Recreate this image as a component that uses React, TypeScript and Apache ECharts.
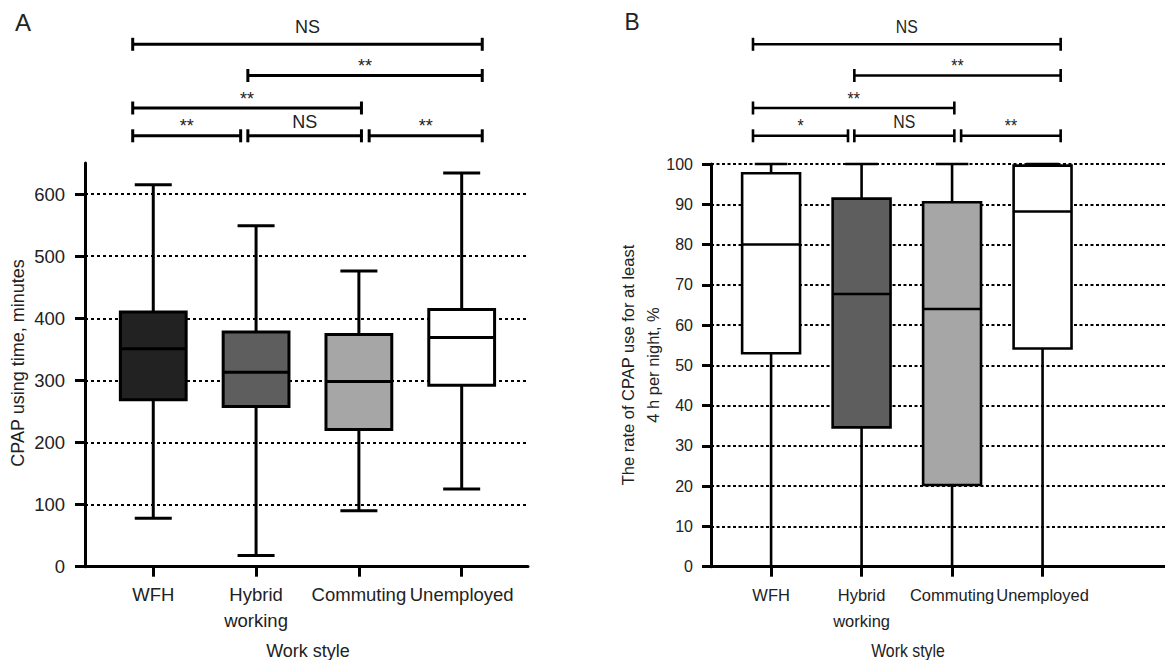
import React, { useEffect, useRef } from "react";
import * as echarts from "echarts";

const FONT = "'Liberation Sans', Arial, Helvetica, sans-serif";
const TEXT = "#222222";

const categories = ["WFH", "Hybrid\nworking", "Commuting", "Unemployed"];
const categoryTicks = [0, 1, 2, 3];

// Panel A: CPAP using time, minutes
const timeMin = [78, 18, 90, 125];
const timeQ1 = [269, 258, 221, 292];
const timeMedian = [351, 313, 298, 369];
const timeQ3 = [410, 378, 374, 414];
const timeMax = [615, 549, 476, 634];
const timeTicks = [0, 100, 200, 300, 400, 500, 600];

// Panel B: rate of CPAP use for at least 4 h per night, %
const rateMin = [0, 0, 0, 0];
const rateQ1 = [53, 34.6, 20.3, 54.2];
const rateMedian = [80, 67.7, 64, 88.2];
const rateQ3 = [97.7, 91.4, 90.5, 99.6];
const rateMax = [100, 100, 100, 100];

const fillsA = ["#222222", "#5e5e5e", "#a6a6a6", "#ffffff"];
const fillsB = ["#ffffff", "#5e5e5e", "#a6a6a6", "#ffffff"];

// Pairwise comparisons (bracket spans in category units, bracket row)
const compFrom = [-0.2, 0.92, -0.2, -0.2, 0.92, 2.1];
const compTo = [3.2, 3.2, 2.025, 0.85, 2.025, 3.2];
const compRow = [0, 1, 2, 3, 3, 3];
const sigLabelsA = ["NS", "**", "**", "**", "NS", "**"];
const sigLabelsB = ["NS", "**", "**", "*", "NS", "**"];

const BOX_W = 0.64;
const CAP_W = 0.36;

const makeBox = (fills: string[], lw: number) => (params: any, api: any) => {
  const i = api.value(0);
  const pMin = api.coord([i, api.value(1)]);
  const yQ1 = api.coord([i, api.value(2)])[1];
  const yMed = api.coord([i, api.value(3)])[1];
  const yQ3 = api.coord([i, api.value(4)])[1];
  const yMax = api.coord([i, api.value(5)])[1];
  const cx = pMin[0];
  const yMin = pMin[1];
  const hb = api.size([BOX_W, 0])[0] / 2;
  const hc = api.size([CAP_W, 0])[0] / 2;
  const s = { stroke: "#000", lineWidth: lw };
  return {
    type: "group",
    children: [
      { type: "line", shape: { x1: cx, y1: yMax, x2: cx, y2: yQ3 }, style: s },
      { type: "line", shape: { x1: cx, y1: yQ1, x2: cx, y2: yMin }, style: s },
      { type: "line", shape: { x1: cx - hc, y1: yMax, x2: cx + hc, y2: yMax }, style: s },
      { type: "line", shape: { x1: cx - hc, y1: yMin, x2: cx + hc, y2: yMin }, style: s },
      {
        type: "rect",
        shape: { x: cx - hb, y: yQ3, width: hb * 2, height: yQ1 - yQ3 },
        style: { fill: fills[params.dataIndex], stroke: "#000", lineWidth: lw },
      },
      { type: "line", shape: { x1: cx - hb, y1: yMed, x2: cx + hb, y2: yMed }, style: s },
    ],
  };
};

const xAxisCfg = (gridIndex: number, max: number, fontSize: number) => ({
  type: "value",
  gridIndex,
  min: -0.664,
  max,
  axisLine: { show: true, onZero: false, lineStyle: { color: "#000", width: 3 } },
  axisTick: { show: true, length: 10, customValues: categoryTicks, lineStyle: { color: "#000", width: 3 } },
  axisLabel: {
    customValues: categoryTicks,
    formatter: (v: number) => categories[Math.round(v)],
    fontSize,
    lineHeight: 26,
    color: TEXT,
    fontFamily: FONT,
    margin: 15,
  },
  splitLine: { show: false },
});

export default function App() {
  const ref = useRef<HTMLDivElement>(null);
  useEffect(() => {
    document.body.style.margin = "0";
    const chart = echarts.init(ref.current!, null, { renderer: "svg" });
    const option: any = {
      animation: false,
      backgroundColor: "#ffffff",
      grid: [
        { left: 85, top: 163, width: 443, height: 403.7 },
        { left: 711, top: 164, width: 454, height: 402.7 },
      ],
      xAxis: [xAxisCfg(0, 3.645, 18.5), xAxisCfg(1, 4.353, 16.5)],
      yAxis: [
        {
          type: "value",
          gridIndex: 0,
          min: 0,
          max: 650,
          interval: 100,
          axisLine: { show: true, onZero: false, lineStyle: { color: "#000", width: 3 } },
          axisTick: { show: true, length: 10, customValues: timeTicks, lineStyle: { color: "#000", width: 3 } },
          axisLabel: { customValues: timeTicks, fontSize: 18.5, color: TEXT, fontFamily: FONT, margin: 20 },
          splitLine: {
            show: true,
            showMinLine: false,
            showMaxLine: true,
            lineStyle: { color: "#000", width: 2, type: [3, 3] },
          },
        },
        {
          type: "value",
          gridIndex: 1,
          min: 0,
          max: 100,
          interval: 10,
          axisLine: { show: true, onZero: false, lineStyle: { color: "#000", width: 3 } },
          axisTick: { show: true, length: 9, lineStyle: { color: "#000", width: 3 } },
          axisLabel: { fontSize: 16, color: TEXT, fontFamily: FONT, margin: 18 },
          splitLine: {
            show: true,
            showMinLine: false,
            lineStyle: { color: "#000", width: 2, type: [3, 2.5] },
          },
        },
      ],
      series: [
        {
          type: "custom",
          xAxisIndex: 0,
          yAxisIndex: 0,
          renderItem: makeBox(fillsA, 3),
          encode: { x: 0, y: [1, 2, 3, 4, 5] },
          data: categories.map((_, i) => [i, timeMin[i], timeQ1[i], timeMedian[i], timeQ3[i], timeMax[i]]),
        },
        {
          type: "custom",
          xAxisIndex: 1,
          yAxisIndex: 1,
          renderItem: makeBox(fillsB, 2.6),
          encode: { x: 0, y: [1, 2, 3, 4, 5] },
          data: categories.map((_, i) => [i, rateMin[i], rateQ1[i], rateMedian[i], rateQ3[i], rateMax[i]]),
        },
      ],
    };
    chart.setOption(option);

    const rowLineY = [44.3, 75.5, 108, 135.8];
    const rowTextY = [27, 62, 95, 122];
    const graphics: any[] = [];
    const addPanel = (gridIndex: number, labels: string[], lw: number, scaleX: number) => {
      compFrom.forEach((from, k) => {
        const x1 = chart.convertToPixel({ gridIndex } as any, [from, 0])[0];
        const x2 = chart.convertToPixel({ gridIndex } as any, [compTo[k], 0])[0];
        const y = rowLineY[compRow[k]];
        const st = { stroke: "#000", lineWidth: lw };
        graphics.push({ type: "line", shape: { x1, y1: y, x2, y2: y }, style: st });
        graphics.push({ type: "line", shape: { x1, y1: y - 6.5, x2: x1, y2: y + 6.5 }, style: st });
        graphics.push({ type: "line", shape: { x1: x2, y1: y - 6.5, x2, y2: y + 6.5 }, style: st });
        const lab = labels[k];
        const isStar = lab.indexOf("*") >= 0;
        graphics.push({
          type: "text",
          x: (x1 + x2) / 2,
          y: rowTextY[compRow[k]] + (isStar ? 4 : 0),
          scaleX,
          style: {
            text: lab,
            fill: TEXT,
            font: `18px ${FONT}`,
            align: "center",
            verticalAlign: "middle",
          },
        });
      });
    };
    addPanel(0, sigLabelsA, 3, 1);
    addPanel(1, sigLabelsB, 2.6, 0.88);

    const txt = (text: string, x: number, y: number, size: number, extra: any = {}) => ({
      type: "text",
      x,
      y,
      ...extra,
      style: {
        text,
        fill: TEXT,
        font: `${size}px ${FONT}`,
        align: "center",
        verticalAlign: "middle",
        ...(extra.style || {}),
      },
    });
    graphics.push(txt("A", 23, 22, 24));
    graphics.push(txt("B", 632, 22, 24, { scaleX: 0.95 }));
    graphics.push(txt("Work style", 308, 651, 18));
    graphics.push(txt("Work style", 908, 651, 18, { scaleX: 0.88 }));
    graphics.push(txt("CPAP using time, minutes", 18, 363, 18, { rotation: Math.PI / 2 }));
    graphics.push(
      txt("The rate of CPAP use for at least\n4 h per night, %", 640, 365, 16.5, {
        rotation: Math.PI / 2,
        style: { lineHeight: 25 },
      })
    );
    chart.setOption({ graphic: graphics });

    return () => chart.dispose();
  }, []);
  return <div ref={ref} style={{ width: 1165, height: 660 }} />;
}
